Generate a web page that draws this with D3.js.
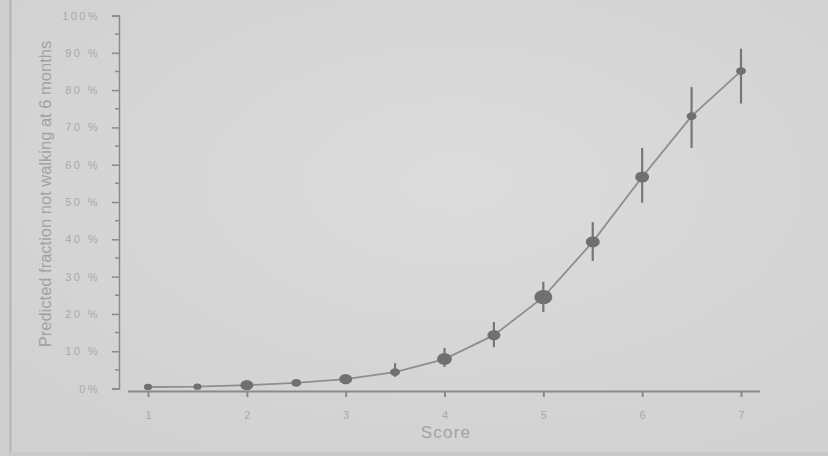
<!DOCTYPE html>
<html>
<head>
<meta charset="utf-8">
<script src="https://cdn.jsdelivr.net/npm/d3@7"></script>
<style>
  html, body { margin: 0; padding: 0; background: #d4d4d4; }
  svg { display: block; }
  text { font-family: "Liberation Sans", Arial, sans-serif; }
</style>
</head>
<body>
<svg id="chart" width="828" height="456"></svg>
<script>
// Score values where the model was evaluated
const scores = [1, 1.5, 2, 2.5, 3, 3.5, 4, 4.5, 5, 5.5, 6, 6.5, 7];
// Predicted fraction not walking at 6 months (%)
const predicted = [0.4, 0.5, 0.9, 1.5, 2.5, 4.4, 7.9, 14.3, 24.5, 39.3, 56.7, 73.0, 85.1];
// Confidence interval bounds (%), null where no bar is drawn
const lower = [null, null, null, null, null, 3.1, 5.8, 11.1, 20.5, 34.2, 49.8, 64.5, 76.4];
const upper = [null, null, null, null, null, 6.8, 10.9, 17.8, 28.6, 44.6, 64.5, 80.8, 91.1];
// Relative weight of each point (marker area)
const weight = [1, 1, 2.6, 1.5, 2.6, 1.5, 3.4, 2.6, 5, 3, 3, 1.5, 1.5];
// Axis ticks and labels
const xTicks = [1, 2, 3, 4, 5, 6, 7];
const yTicks = [0, 10, 20, 30, 40, 50, 60, 70, 80, 90, 100];
const yTickLabels = ["0%", "10 %", "20 %", "30 %", "40 %", "50 %", "60 %", "70 %", "80 %", "90 %", "100%"];
const yMinorTicks = [5, 15, 25, 35, 45, 55, 65, 75, 85, 95];

const svg = d3.select("#chart");
const W = 828, H = 456;

// Background: slightly uneven light grey panel
const defs = svg.append("defs");
const grad = defs.append("radialGradient").attr("id", "bg")
  .attr("cx", "55%").attr("cy", "40%").attr("r", "75%");
grad.append("stop").attr("offset", "0%").attr("stop-color", "#dcdcdc");
grad.append("stop").attr("offset", "100%").attr("stop-color", "#d0d0d0");
svg.append("rect").attr("width", W).attr("height", H).attr("fill", "url(#bg)");
svg.append("rect").attr("x", 0).attr("y", 0).attr("width", 10).attr("height", H).attr("fill", "#cfcfcf");
svg.append("line").attr("x1", 10.5).attr("x2", 10.5).attr("y1", 0).attr("y2", H)
  .attr("stroke", "#b4b4b4").attr("stroke-width", 2);
svg.append("rect").attr("x", 10).attr("y", 452).attr("width", W).attr("height", 4).attr("fill", "#c8c8c8");

const x = d3.scaleLinear().domain([1, 7]).range([148, 741]);
const y = d3.scaleLinear().domain([0, 100]).range([388.5, 15.5]);

const axisColor = "#8a8a8a";
const labelColor = "#a9a9a9";

// Y axis
const yAxis = svg.append("g").attr("transform", "translate(119,0)")
  .call(d3.axisLeft(y).tickValues(yTicks).tickSize(7).tickPadding(12)
    .tickFormat((d, i) => yTickLabels[i]));
yAxis.select(".domain").attr("stroke", axisColor).attr("stroke-width", 1.5);
yAxis.selectAll(".tick line").attr("stroke", axisColor).attr("stroke-width", 1.5);
yAxis.selectAll(".tick text").attr("fill", labelColor).attr("font-size", 11)
  .attr("letter-spacing", 2.4).attr("font-family", "Liberation Sans, Arial, sans-serif");
yAxis.append("g").selectAll("line").data(yMinorTicks).join("line")
  .attr("x1", -4).attr("x2", 0).attr("y1", d => y(d)).attr("y2", d => y(d))
  .attr("stroke", axisColor).attr("stroke-width", 1.5);

// X axis
const xAxis = svg.append("g").attr("transform", "translate(0,391)")
  .call(d3.axisBottom(x).tickValues(xTicks).tickSize(6).tickPadding(14).tickSizeOuter(0)
    .tickFormat(d3.format("d")));
xAxis.select(".domain").attr("d", "M128,0.5H760").attr("stroke", axisColor).attr("stroke-width", 2);
xAxis.selectAll(".tick line").attr("stroke", axisColor).attr("stroke-width", 2);
xAxis.selectAll(".tick text").attr("fill", labelColor).attr("font-size", 11)
  .attr("font-family", "Liberation Sans, Arial, sans-serif");

// Axis titles
svg.append("text").attr("x", 446).attr("y", 438).attr("text-anchor", "middle")
  .attr("fill", "#a2a2a2").attr("font-size", 17).attr("letter-spacing", 1.2)
  .text("Score");
svg.append("text").attr("transform", "translate(51,194) rotate(-90)")
  .attr("text-anchor", "middle").attr("fill", "#a2a2a2").attr("font-size", 16.5)
  .text("Predicted fraction not walking at 6 months");

const pts = scores.map((s, i) => ({ s, p: predicted[i], lo: lower[i], hi: upper[i], w: weight[i] }));

// Fitted curve through predicted values
const line = d3.line().x(d => x(d.s)).y(d => y(d.p));
svg.append("path").datum(pts).attr("d", line)
  .attr("fill", "none").attr("stroke", "#8e8e8e").attr("stroke-width", 1.8);

// Confidence interval bars
svg.append("g").selectAll("line").data(pts.filter(d => d.lo !== null)).join("line")
  .attr("x1", d => x(d.s)).attr("x2", d => x(d.s))
  .attr("y1", d => y(d.hi)).attr("y2", d => y(d.lo))
  .attr("stroke", "#767676").attr("stroke-width", 2.2);

// Markers sized by weight
const r = d3.scaleSqrt().domain([0, 5]).range([0, 9]);
svg.append("g").selectAll("ellipse").data(pts).join("ellipse")
  .attr("cx", d => x(d.s)).attr("cy", d => y(d.p))
  .attr("rx", d => r(d.w)).attr("ry", d => r(d.w) * 0.8)
  .attr("fill", "#707070");
</script>
</body>
</html>
